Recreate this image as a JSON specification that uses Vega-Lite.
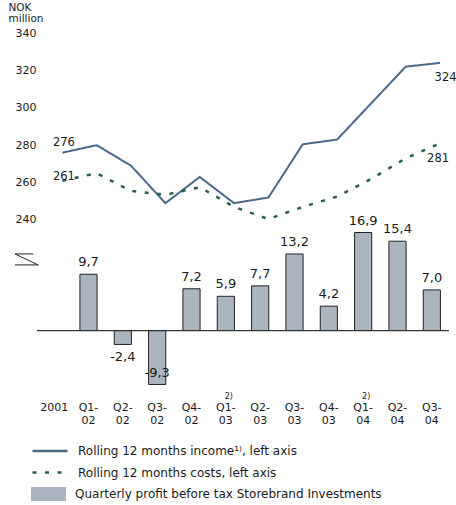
{
  "$schema": "https://vega.github.io/schema/vega-lite/v6.json",
  "autosize": "none",
  "width": 412,
  "height": 359,
  "padding": {"left": 37, "top": 33, "right": 7, "bottom": 113},
  "config": {
    "font": "DejaVu Sans",
    "view": {"stroke": null},
    "locale": {"number": {"decimal": ",", "thousands": " ", "grouping": [3], "currency": ["", ""], "minus": "-"}},
    "axis": {"grid": false, "ticks": false, "domain": false, "labelColor": "#1a1a1a", "titleColor": "#1a1a1a", "labelFont": "DejaVu Sans", "titleFont": "DejaVu Sans"},
    "legend": {"labelColor": "#1a1a1a", "labelFont": "DejaVu Sans"},
    "text": {"color": "#1a1a1a", "font": "DejaVu Sans"}
  },
  "data": {"values": [
    {"q": "2001", "income": 276, "costs": 261, "profit": null, "note": null},
    {"q": "Q1-02", "income": 280, "costs": 265, "profit": 9.7, "note": null},
    {"q": "Q2-02", "income": 269, "costs": 255.5, "profit": -2.4, "note": null},
    {"q": "Q3-02", "income": 249, "costs": 253.5, "profit": -9.3, "note": null},
    {"q": "Q4-02", "income": 263, "costs": 257.5, "profit": 7.2, "note": null},
    {"q": "Q1-03", "income": 249, "costs": 247, "profit": 5.9, "note": "2)"},
    {"q": "Q2-03", "income": 252, "costs": 240.5, "profit": 7.7, "note": null},
    {"q": "Q3-03", "income": 280.5, "costs": 247, "profit": 13.2, "note": null},
    {"q": "Q4-03", "income": 283, "costs": 252.5, "profit": 4.2, "note": null},
    {"q": "Q1-04", "income": 302.5, "costs": 262, "profit": 16.9, "note": "2)"},
    {"q": "Q2-04", "income": 322, "costs": 273, "profit": 15.4, "note": null},
    {"q": "Q3-04", "income": 324, "costs": 281, "profit": 7.0, "note": null}
  ]},
  "layer": [
    {
      "layer": [
        {
          "mark": {"type": "bar", "width": {"band": 0.5}, "stroke": "#222222", "strokeWidth": 1},
          "encoding": {
            "x": {"field": "q", "type": "nominal", "sort": null, "scale": {"type": "band", "paddingInner": 0, "paddingOuter": 0, "domain": ["2001", "Q1-02", "Q2-02", "Q3-02", "Q4-02", "Q1-03", "Q2-03", "Q3-03", "Q4-03", "Q1-04", "Q2-04", "Q3-04"]},
                  "axis": {"title": null, "labelExpr": "datum.value == '2001' ? '2001' : [slice(datum.value, 0, 3), slice(datum.value, 3)]", "labelPadding": 9, "labelFontSize": 11, "labelLineHeight": 13, "labelAngle": 0}},
            "y": {"field": "profit", "type": "quantitative", "scale": {"domain": [-10.6, 51.3], "nice": false, "zero": false}, "axis": null},
            "fill": {"datum": "Quarterly profit before tax Storebrand Investments",
                     "scale": {"domain": ["Quarterly profit before tax Storebrand Investments"], "range": ["#aab5bf"]},
                     "legend": {"orient": "none", "legendX": -6, "legendY": 454, "title": null, "padding": 0,
                                "symbolSize": 1225, "clipHeight": 14, "labelOffset": 9, "symbolType": "M-1,-0.4H1V0.4H-1Z",
                                "symbolStrokeWidth": 0, "labelFontSize": 12, "labelLimit": 420}}
          }
        },
        {
          "mark": {"type": "rule", "color": "#333333", "strokeWidth": 1},
          "encoding": {"y": {"datum": 0, "type": "quantitative", "scale": {"domain": [-10.6, 51.3], "nice": false, "zero": false}, "axis": null}}
        },
        {
          "transform": [{"filter": "datum.profit > 0"}],
          "mark": {"type": "text", "baseline": "bottom", "dy": -5, "fontSize": 13},
          "encoding": {
            "x": {"field": "q", "type": "nominal", "sort": null, "scale": {"type": "band", "paddingInner": 0, "paddingOuter": 0, "domain": ["2001", "Q1-02", "Q2-02", "Q3-02", "Q4-02", "Q1-03", "Q2-03", "Q3-03", "Q4-03", "Q1-04", "Q2-04", "Q3-04"]}},
            "y": {"field": "profit", "type": "quantitative", "scale": {"domain": [-10.6, 51.3], "nice": false, "zero": false}, "axis": null},
            "text": {"field": "profit", "type": "quantitative", "format": ".1f"}
          }
        },
        {
          "transform": [{"filter": "datum.profit < 0 && datum.profit > -5"}],
          "mark": {"type": "text", "baseline": "top", "dy": 7, "fontSize": 13},
          "encoding": {
            "x": {"field": "q", "type": "nominal", "sort": null, "scale": {"type": "band", "paddingInner": 0, "paddingOuter": 0, "domain": ["2001", "Q1-02", "Q2-02", "Q3-02", "Q4-02", "Q1-03", "Q2-03", "Q3-03", "Q4-03", "Q1-04", "Q2-04", "Q3-04"]}},
            "y": {"field": "profit", "type": "quantitative", "scale": {"domain": [-10.6, 51.3], "nice": false, "zero": false}, "axis": null},
            "text": {"field": "profit", "type": "quantitative", "format": ".1f"}
          }
        },
        {
          "transform": [{"filter": "datum.profit < -5"}],
          "mark": {"type": "text", "baseline": "middle", "dy": -11, "fontSize": 13},
          "encoding": {
            "x": {"field": "q", "type": "nominal", "sort": null, "scale": {"type": "band", "paddingInner": 0, "paddingOuter": 0, "domain": ["2001", "Q1-02", "Q2-02", "Q3-02", "Q4-02", "Q1-03", "Q2-03", "Q3-03", "Q4-03", "Q1-04", "Q2-04", "Q3-04"]}},
            "y": {"field": "profit", "type": "quantitative", "scale": {"domain": [-10.6, 51.3], "nice": false, "zero": false}, "axis": null},
            "text": {"field": "profit", "type": "quantitative", "format": ".1f"}
          }
        },
        {
          "transform": [{"filter": "datum.note != null"}],
          "mark": {"type": "text", "baseline": "middle", "dx": 3, "fontSize": 8},
          "encoding": {
            "x": {"field": "q", "type": "nominal", "sort": null, "scale": {"type": "band", "paddingInner": 0, "paddingOuter": 0, "domain": ["2001", "Q1-02", "Q2-02", "Q3-02", "Q4-02", "Q1-03", "Q2-03", "Q3-03", "Q4-03", "Q1-04", "Q2-04", "Q3-04"]}},
            "y": {"datum": -11.4, "type": "quantitative", "scale": {"domain": [-10.6, 51.3], "nice": false, "zero": false}, "axis": null},
            "text": {"field": "note"}
          }
        }
      ]
    },
    {
      "layer": [
        {
          "mark": {"type": "line", "strokeWidth": 2},
          "encoding": {
            "x": {"field": "q", "type": "nominal", "sort": null, "bandPosition": 0.74, "scale": {"type": "band", "paddingInner": 0, "paddingOuter": 0, "domain": ["2001", "Q1-02", "Q2-02", "Q3-02", "Q4-02", "Q1-03", "Q2-03", "Q3-03", "Q4-03", "Q1-04", "Q2-04", "Q3-04"]}},
            "y": {"field": "income", "type": "quantitative", "scale": {"domain": [148, 340], "nice": false, "zero": false},
                  "axis": {"title": ["NOK", "million"], "values": [240, 260, 280, 300, 320, 340], "titleAngle": 0, "titleAlign": "left", "titleBaseline": "top", "titleX": -29, "titleY": -31, "titleFontWeight": "normal", "titleFontSize": 10.5, "titleLineHeight": 11.5, "labelPadding": 1, "labelFontSize": 11}},
            "stroke": {"datum": "Rolling 12 months income¹⁾, left axis",
                       "scale": {"domain": ["Rolling 12 months income¹⁾, left axis", "Rolling 12 months costs, left axis"], "range": ["#4b6888", "#2a5e4a"]},
                       "legend": {"orient": "none", "legendX": -6, "legendY": 411, "title": null, "padding": 0,
                                  "symbolSize": 1225, "clipHeight": 14, "rowPadding": 7.5, "labelOffset": 9,
                                  "labelFontSize": 12, "labelLimit": 420, "symbolStrokeWidth": 2.5}},
            "strokeDash": {"datum": "Rolling 12 months income¹⁾, left axis",
                       "scale": {"domain": ["Rolling 12 months income¹⁾, left axis", "Rolling 12 months costs, left axis"], "range": [[1, 0], [4, 8.5]]},
                       "legend": {"orient": "none", "legendX": -6, "legendY": 411, "title": null, "padding": 0,
                                  "symbolSize": 1225, "clipHeight": 14, "rowPadding": 7.5, "labelOffset": 9,
                                  "labelFontSize": 12, "labelLimit": 420, "symbolStrokeWidth": 2.5}}
          }
        },
        {
          "mark": {"type": "line", "strokeWidth": 2.5},
          "encoding": {
            "x": {"field": "q", "type": "nominal", "sort": null, "bandPosition": 0.74, "scale": {"type": "band", "paddingInner": 0, "paddingOuter": 0, "domain": ["2001", "Q1-02", "Q2-02", "Q3-02", "Q4-02", "Q1-03", "Q2-03", "Q3-03", "Q4-03", "Q1-04", "Q2-04", "Q3-04"]}},
            "y": {"field": "costs", "type": "quantitative", "scale": {"domain": [148, 340], "nice": false, "zero": false}},
            "stroke": {"datum": "Rolling 12 months costs, left axis"},
            "strokeDash": {"datum": "Rolling 12 months costs, left axis"}
          }
        },
        {
          "transform": [{"filter": "datum.q == '2001'"}],
          "mark": {"type": "text", "baseline": "middle", "dx": 1.5, "dy": -9.5, "fontSize": 11.5},
          "encoding": {
            "x": {"field": "q", "type": "nominal", "sort": null, "bandPosition": 0.74, "scale": {"type": "band", "paddingInner": 0, "paddingOuter": 0, "domain": ["2001", "Q1-02", "Q2-02", "Q3-02", "Q4-02", "Q1-03", "Q2-03", "Q3-03", "Q4-03", "Q1-04", "Q2-04", "Q3-04"]}},
            "y": {"field": "income", "type": "quantitative", "scale": {"domain": [148, 340], "nice": false, "zero": false}},
            "text": {"field": "income"}
          }
        },
        {
          "transform": [{"filter": "datum.q == '2001'"}],
          "mark": {"type": "text", "baseline": "middle", "dx": 1.5, "dy": -3.5, "fontSize": 11.5},
          "encoding": {
            "x": {"field": "q", "type": "nominal", "sort": null, "bandPosition": 0.74, "scale": {"type": "band", "paddingInner": 0, "paddingOuter": 0, "domain": ["2001", "Q1-02", "Q2-02", "Q3-02", "Q4-02", "Q1-03", "Q2-03", "Q3-03", "Q4-03", "Q1-04", "Q2-04", "Q3-04"]}},
            "y": {"field": "costs", "type": "quantitative", "scale": {"domain": [148, 340], "nice": false, "zero": false}},
            "text": {"field": "costs"}
          }
        },
        {
          "transform": [{"filter": "datum.q == 'Q3-04'"}],
          "mark": {"type": "text", "baseline": "middle", "dx": 5.5, "dy": 15, "fontSize": 11.5},
          "encoding": {
            "x": {"field": "q", "type": "nominal", "sort": null, "bandPosition": 0.74, "scale": {"type": "band", "paddingInner": 0, "paddingOuter": 0, "domain": ["2001", "Q1-02", "Q2-02", "Q3-02", "Q4-02", "Q1-03", "Q2-03", "Q3-03", "Q4-03", "Q1-04", "Q2-04", "Q3-04"]}},
            "y": {"field": "income", "type": "quantitative", "scale": {"domain": [148, 340], "nice": false, "zero": false}},
            "text": {"field": "income"}
          }
        },
        {
          "transform": [{"filter": "datum.q == 'Q3-04'"}],
          "mark": {"type": "text", "baseline": "middle", "dx": -2, "dy": 15.5, "fontSize": 11.5},
          "encoding": {
            "x": {"field": "q", "type": "nominal", "sort": null, "bandPosition": 0.74, "scale": {"type": "band", "paddingInner": 0, "paddingOuter": 0, "domain": ["2001", "Q1-02", "Q2-02", "Q3-02", "Q4-02", "Q1-03", "Q2-03", "Q3-03", "Q4-03", "Q1-04", "Q2-04", "Q3-04"]}},
            "y": {"field": "costs", "type": "quantitative", "scale": {"domain": [148, 340], "nice": false, "zero": false}},
            "text": {"field": "costs"}
          }
        },
        {
          "data": {"values": [{"brk": "axis break"}]},
          "mark": {"type": "point", "shape": "M-1,-0.47H0.57M-1,-0.47L1,0.47M-1,0.47H1", "size": 543, "filled": false, "stroke": "#222222", "strokeWidth": 1, "opacity": 1, "xOffset": -10.4},
          "encoding": {
            "x": {"datum": "2001", "type": "nominal", "bandPosition": 0, "scale": {"type": "band", "paddingInner": 0, "paddingOuter": 0, "domain": ["2001", "Q1-02", "Q2-02", "Q3-02", "Q4-02", "Q1-03", "Q2-03", "Q3-03", "Q4-03", "Q1-04", "Q2-04", "Q3-04"]}},
            "y": {"datum": 218.9, "type": "quantitative", "scale": {"domain": [148, 340], "nice": false, "zero": false}}
          }
        }
      ]
    }
  ],
  "resolve": {"scale": {"y": "independent"}, "axis": {"y": "independent"}}
}
